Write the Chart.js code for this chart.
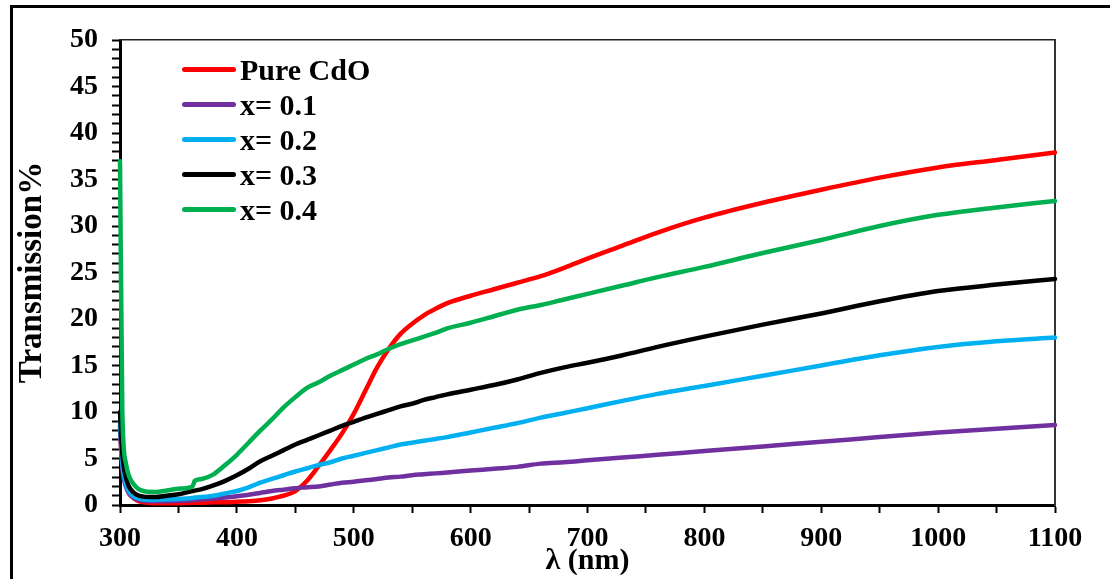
<!DOCTYPE html>
<html>
<head>
<meta charset="utf-8">
<script src="https://cdn.jsdelivr.net/npm/chart.js@4.4.1/dist/chart.umd.min.js"></script>
<style>
    html, body { margin: 0; padding: 0; background: #fff; overflow: hidden; }
    #wrap { position: relative; width: 1110px; height: 579px; }
    #frame {
        position: absolute; left: 10px; top: 5px; width: 1200px; height: 700px;
        border-left: 3px solid #000; border-top: 3px solid #000; pointer-events: none;
    }
    #legend {
        position: absolute; left: 182px; top: 52px;
        font-family: 'Liberation Serif', 'Times New Roman', serif; font-weight: bold; font-size: 30px;
    }
    .row { display: flex; align-items: center; height: 35px; }
    .swatch { width: 54px; height: 5px; border-radius: 3px; margin-right: 4px; }
</style>
</head>
<body>
<div id="wrap">
    <canvas id="chart" width="1110" height="579"></canvas>
    <div id="frame"></div>
    <div id="legend"></div>
</div>
<script>
// longitud de onda (nm)
const lambda = [300, 302, 305, 308, 312, 316, 320, 330, 340, 350, 362, 364, 370, 380, 390, 400,
    410, 420, 430, 440, 450, 460, 470, 480, 490, 500, 510, 520, 530, 540, 550, 560, 570, 580,
    600, 620, 640, 660, 680, 700, 730, 760, 800, 850, 900, 950, 1000, 1050, 1100];

// transmision (%) de cada muestra
const pureCdO = [8, 4.5, 2.2, 1.2, 0.7, 0.4, 0.3, 0.2, 0.2, 0.2, 0.25, 0.25, 0.25, 0.3, 0.3, 0.35,
    0.4, 0.5, 0.7, 1.0, 1.5, 2.6, 4.2, 5.9, 7.7, 9.8, 12.3, 14.8, 16.8, 18.4, 19.5, 20.4, 21.1, 21.7,
    22.5, 23.2, 23.9, 24.6, 25.5, 26.5, 27.9, 29.3, 30.9, 32.5, 33.9, 35.2, 36.3, 37.1, 37.9];
const x01 = [8.5, 4, 2, 1.2, 0.75, 0.55, 0.45, 0.4, 0.4, 0.45, 0.5, 0.55, 0.6, 0.7, 0.8, 0.95,
    1.1, 1.3, 1.5, 1.65, 1.8, 1.9, 2.0, 2.2, 2.4, 2.5, 2.65, 2.8, 2.95, 3.05, 3.2, 3.3, 3.4, 3.5,
    3.7, 3.9, 4.1, 4.45, 4.6, 4.8, 5.1, 5.4, 5.8, 6.3, 6.8, 7.3, 7.8, 8.2, 8.6];
const x02 = [9, 4.5, 2.3, 1.4, 0.9, 0.7, 0.6, 0.55, 0.6, 0.65, 0.75, 0.8, 0.85, 1.0, 1.25, 1.5,
    1.9, 2.4, 2.8, 3.2, 3.6, 3.95, 4.3, 4.6, 5.0, 5.3, 5.6, 5.9, 6.2, 6.5, 6.7, 6.9, 7.1, 7.3,
    7.8, 8.3, 8.8, 9.4, 9.9, 10.4, 11.2, 11.95, 12.8, 13.9, 15.0, 16.1, 17.0, 17.6, 18.0];
const x03 = [10, 5.5, 3, 1.9, 1.3, 1.0, 0.9, 0.85, 1.0, 1.15, 1.5, 1.55, 1.7, 2.1, 2.6, 3.2,
    3.9, 4.7, 5.3, 5.9, 6.5, 7.0, 7.5, 8.0, 8.5, 8.95, 9.4, 9.8, 10.2, 10.6, 10.9, 11.3, 11.6, 11.9,
    12.4, 12.9, 13.5, 14.2, 14.8, 15.3, 16.1, 17.0, 18.1, 19.4, 20.6, 21.9, 23.0, 23.7, 24.3];
const x04 = [37, 10, 4.5, 3, 2.2, 1.7, 1.5, 1.4, 1.55, 1.75, 2.0, 2.6, 2.8, 3.3, 4.3, 5.4,
    6.7, 8.0, 9.2, 10.5, 11.6, 12.6, 13.2, 13.9, 14.5, 15.1, 15.7, 16.2, 16.8, 17.3, 17.7, 18.1, 18.5, 19.0,
    19.6, 20.3, 21.0, 21.5, 22.1, 22.7, 23.6, 24.5, 25.6, 27.1, 28.5, 30.0, 31.2, 32.0, 32.7];

const nombres = ['Pure CdO', 'x= 0.1', 'x= 0.2', 'x= 0.3', 'x= 0.4'];
const series = [pureCdO, x01, x02, x03, x04];
const colores = ['#FF0000', '#7030A0', '#00B0F0', '#000000', '#00B050'];

const fuente = "'Liberation Serif', 'Times New Roman', serif";

function puntos(valores) {
    return lambda.map((l, i) => ({ x: l, y: valores[i] }));
}

const datasets = series.map((s, i) => ({
    label: nombres[i],
    data: puntos(s),
    borderColor: colores[i],
    borderWidth: 4.5,
    borderCapStyle: 'round',
    borderJoinStyle: 'round',
    pointRadius: 0,
    fill: false,
    cubicInterpolationMode: 'monotone',
    clip: false,
    order: series.length - i
}));

const ticksComunes = {
    color: '#000',
    font: { family: fuente, weight: 'bold', size: 28 },
    autoSkip: false,
    maxRotation: 0
};

new Chart(document.getElementById('chart'), {
    type: 'line',
    data: { datasets: datasets },
    options: {
        responsive: false,
        animation: false,
        layout: { padding: 0 },
        plugins: { legend: { display: false }, tooltip: { enabled: false } },
        scales: {
            x: {
                type: 'linear',
                position: 'bottom',
                min: 300,
                max: 1100,
                afterFit: s => { s.height = 74; },
                border: { color: '#000', width: 3 },
                grid: { drawOnChartArea: false, tickLength: 8, tickColor: '#000', tickWidth: 2 },
                ticks: Object.assign({}, ticksComunes, {
                    stepSize: 50,
                    padding: 9,
                    callback: v => (v % 100 === 0 ? v : '')
                }),
                title: {
                    display: true,
                    text: 'λ (nm)',
                    color: '#000',
                    font: { family: fuente, weight: 'bold', size: 30 },
                    padding: { top: 0, bottom: 0 }
                }
            },
            y: {
                type: 'linear',
                position: 'left',
                min: 0,
                max: 50,
                afterFit: s => { s.width = 120; },
                border: { color: '#000', width: 3 },
                grid: { drawOnChartArea: false, tickLength: 8, tickColor: '#000', tickWidth: 2 },
                ticks: Object.assign({}, ticksComunes, {
                    stepSize: 1,
                    padding: 14,
                    callback: v => (v % 5 === 0 ? v : '')
                }),
                title: {
                    display: true,
                    text: 'Transmission%',
                    color: '#000',
                    font: { family: fuente, weight: 'bold', size: 33 },
                    padding: { top: 13, bottom: 0 }
                }
            },
            x2: {
                type: 'linear',
                position: 'top',
                min: 300,
                max: 1100,
                afterFit: s => { s.height = 40; },
                border: { color: '#222', width: 1.5 },
                grid: { display: false },
                ticks: { display: false }
            },
            y2: {
                type: 'linear',
                position: 'right',
                min: 0,
                max: 50,
                afterFit: s => { s.width = 55; },
                border: { color: '#333', width: 2 },
                grid: { display: false },
                ticks: { display: false }
            }
        }
    }
});

// Leyenda dentro del area del grafico
const leyenda = document.getElementById('legend');
nombres.forEach((n, i) => {
    const fila = document.createElement('div');
    fila.className = 'row';
    const linea = document.createElement('span');
    linea.className = 'swatch';
    linea.style.background = colores[i];
    const texto = document.createElement('span');
    texto.textContent = n;
    fila.appendChild(linea);
    fila.appendChild(texto);
    leyenda.appendChild(fila);
});
</script>
</body>
</html>
